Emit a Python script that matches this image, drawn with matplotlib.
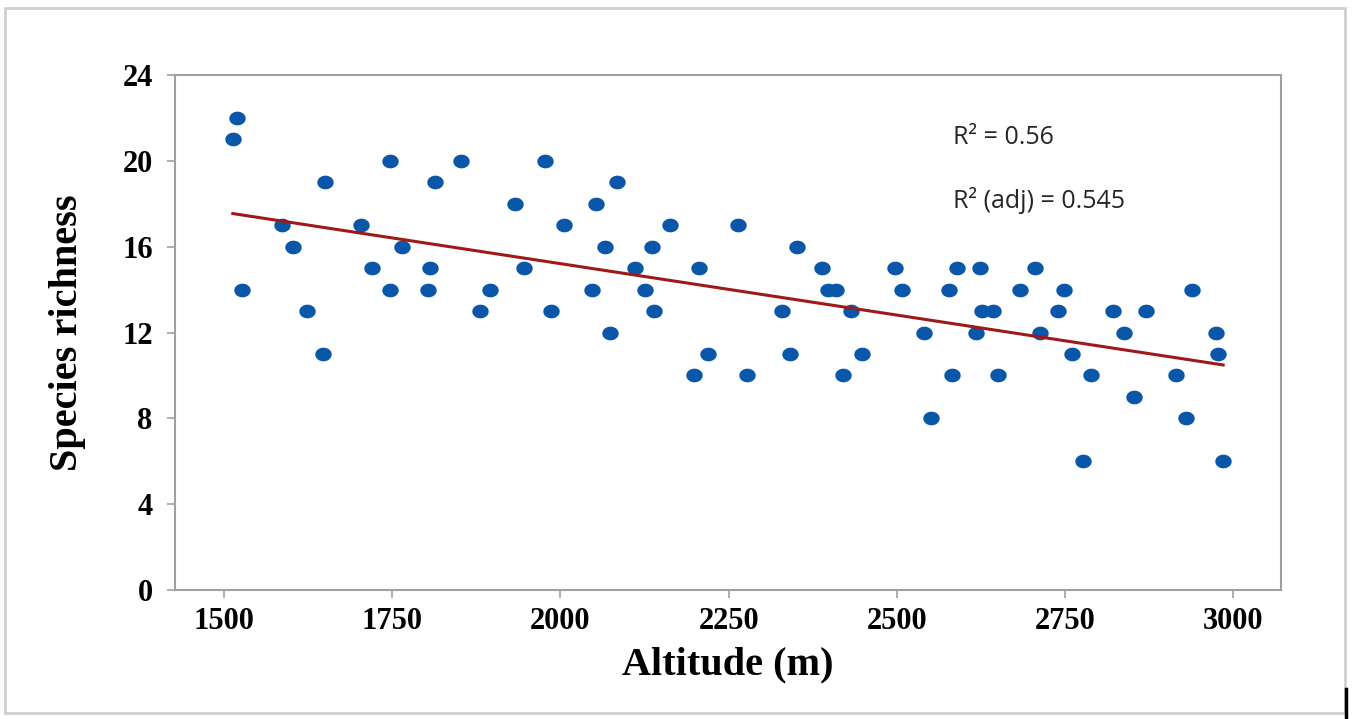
import numpy as np
import matplotlib
matplotlib.use("Agg")
import matplotlib.pyplot as plt
from matplotlib.patches import Rectangle
from matplotlib.lines import Line2D
from matplotlib.path import Path

# altitude (m) and species richness
altitude = [1513, 1519, 1527, 1586, 1603, 1623, 1650, 1647, 1704, 1720,
            1747, 1747, 1765, 1803, 1806, 1814, 1852, 1881, 1895, 1933,
            1946, 1977, 1986, 2005, 2047, 2053, 2066, 2074, 2084, 2111,
            2126, 2136, 2139, 2163, 2199, 2206, 2220, 2264, 2277, 2329,
            2341, 2352, 2389, 2398, 2410, 2420, 2432, 2448, 2497, 2508,
            2541, 2551, 2578, 2582, 2590, 2618, 2624, 2627, 2643, 2651,
            2683, 2706, 2713, 2740, 2749, 2761, 2777, 2788, 2821, 2837,
            2853, 2870, 2915, 2930, 2939, 2974, 2977, 2985]
richness = [21, 22, 14, 17, 16, 13, 19, 11, 17, 15,
            20, 14, 16, 14, 15, 19, 20, 13, 14, 18,
            15, 20, 13, 17, 14, 18, 16, 12, 19, 15,
            14, 16, 13, 17, 10, 15, 11, 17, 10, 13,
            11, 16, 15, 14, 14, 10, 13, 11, 15, 14,
            12, 8, 14, 10, 15, 12, 15, 13, 13, 10,
            14, 15, 12, 13, 14, 11, 6, 10, 13, 12,
            9, 13, 10, 8, 14, 12, 11, 6]

x_ticks = [1500, 1750, 2000, 2250, 2500, 2750, 3000]
y_ticks = [0, 4, 8, 12, 16, 20, 24]
r2_text = "R² = 0.56"
r2adj_text = "R² (adj) = 0.545"

x = np.array(altitude, dtype=float)
y = np.array(richness, dtype=float)
slope, icpt = np.polyfit(x, y, 1)

# slightly wide dots, like the stretched original
t = np.linspace(0, 2 * np.pi, 40)
dot = Path(np.column_stack([1.2 * np.cos(t), np.sin(t)]), closed=True)

fig = plt.figure(figsize=(13.52, 7.19), dpi=100)
ax = fig.add_axes([0.1294, 0.1794, 0.8181, 0.7163])

ax.scatter(x, y, s=140, marker=dot, color="#0a56a8", zorder=3, linewidths=0)
xs = np.array([x.min(), x.max()])
ax.plot(xs, slope * xs + icpt, color="#9e1a1a", lw=2.2, zorder=4)

ax.set_xlim(1427, 3071)
ax.set_ylim(0, 24)
ax.set_xticks(x_ticks)
ax.set_yticks(y_ticks)

serif = ["Liberation Serif", "DejaVu Serif"]
for lab in ax.get_xticklabels() + ax.get_yticklabels():
    lab.set_family(serif)
    lab.set_fontweight("bold")
    lab.set_fontsize(22)

for sp in ax.spines.values():
    sp.set_color("#a0a0a0")
    sp.set_linewidth(1.5)
ax.tick_params(axis="both", direction="out", length=6, width=1.2,
               color="#a0a0a0", pad=6)
ax.tick_params(axis="y", pad=10)

ax.set_xlabel("Altitude (m)", family=serif, fontweight="bold", fontsize=29, labelpad=8)
ax.set_ylabel("Species richness", family=serif, fontweight="bold", fontsize=29, labelpad=26)

sans = ["Open Sans", "DejaVu Sans"]
ax.text(0.703, 0.878, r2_text, transform=ax.transAxes, fontsize=18,
        family=sans, color="#262626", va="center")
ax.text(0.703, 0.757, r2adj_text, transform=ax.transAxes, fontsize=18,
        family=sans, color="#262626", va="center")

# outer frame of the picture
fig.patches.append(Rectangle((5 / 1352, 6 / 719), 1340 / 1352, 705 / 719,
                             transform=fig.transFigure, fill=False,
                             edgecolor="#cfcfcf", lw=2))
fig.lines.append(Line2D([1346 / 1352, 1346 / 1352], [2 / 719, 30 / 719],
                        transform=fig.transFigure, color="black", lw=2.5))

fig.savefig("out.png", dpi=100)
